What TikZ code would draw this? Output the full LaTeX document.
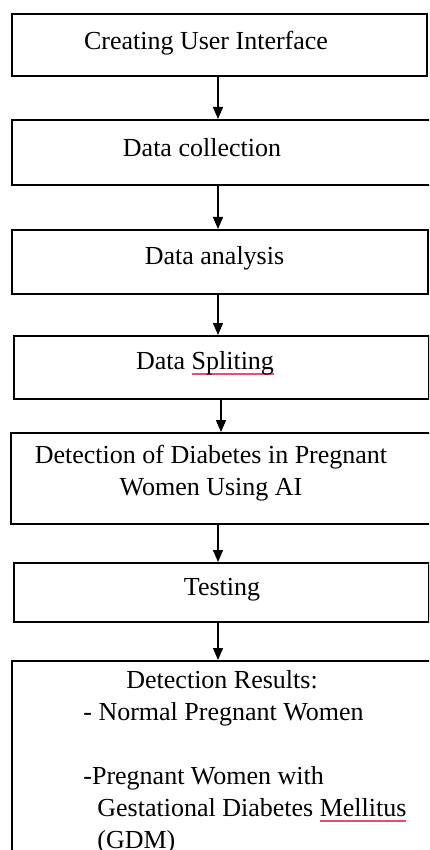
\documentclass[tikz,border=0pt]{standalone}
\usepackage{fontspec}
\setmainfont{Liberation Serif}
\usetikzlibrary{arrows.meta}
\definecolor{spellred}{RGB}{235,75,115}
% wavy spell-check mark under a word
\newcommand{\redmark}[1]{\setbox0\hbox{#1}\rlap{\color{spellred}\rule[-2.8pt]{\wd0}{0.8pt}}\box0}

\begin{document}
\begin{tikzpicture}[x=0.5pt,y=-0.5pt]
\tikzstyle{stepbox}=[draw,line width=1pt,inner sep=0pt,anchor=north west]
\tikzstyle{steptext}=[inner sep=0pt,font=\fontsize{13}{16}\selectfont]
\tikzstyle{flow}=[line width=0.7pt,-{Triangle[width=5pt,length=6pt]}]
\useasboundingbox (0,0) rectangle (429,850);
\clip (0,0) rectangle (429,850);
\coordinate (axis) at (218,0);
% boxes
\node[stepbox,minimum width=207.5pt,minimum height=31pt] (b1) at (11,13) {};
\node[stepbox,minimum width=212.5pt,minimum height=32.5pt] (b2) at (11,119) {};
\node[stepbox,minimum width=208pt,minimum height=32pt] (b3) at (11,229) {};
\node[stepbox,minimum width=207.5pt,minimum height=31.5pt] (b4) at (13,335) {};
\node[stepbox,minimum width=213pt,minimum height=45.5pt] (b5) at (10,432) {};
\node[stepbox,minimum width=207.5pt,minimum height=29.5pt] (b6) at (13,562) {};
\node[stepbox,minimum width=212.5pt,minimum height=110pt] (b7) at (11,660) {};
% texts
\node[steptext] (t1) at (206,43) {Creating User Interface};
\node[steptext] (t2) at (202,148) {Data collection};
\node[steptext] (t3) at (214.5,258) {Data analysis};
\node[steptext] (t4) at (205,363) {Data \redmark{Spliting}};
\node[steptext,align=center] (t5) at (211,473) {Detection of Diabetes in Pregnant\\ Women Using AI};
\node[steptext] (t6) at (222,590) {Testing};
% last line's baseline is the node's base
\node[steptext,align=left,anchor=base west] (t7) at (83,848)
  {\hspace*{21.5pt}Detection Results:\\
   - Normal Pregnant Women\\[16pt]
   -Pregnant Women with\\
   \hspace*{7pt}Gestational Diabetes \redmark{Mellitus}\\
   \hspace*{7pt}(GDM)};
% arrows
\draw[flow] (b1.south -| axis) -- (b2.north -| axis);
\draw[flow] (b2.south -| axis) -- (b3.north -| axis);
\draw[flow] (b3.south -| axis) -- (b4.north -| axis);
\draw[flow] ([xshift=1.5pt]b4.south -| axis) -- ([xshift=1.5pt]b5.north -| axis);
\draw[flow] (b5.south -| axis) -- (b6.north -| axis);
\draw[flow] (b6.south -| axis) -- (b7.north -| axis);
\end{tikzpicture}
\end{document}
